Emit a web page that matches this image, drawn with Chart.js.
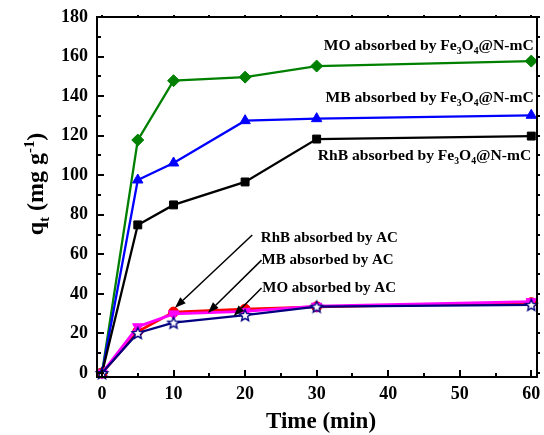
<!DOCTYPE html>
<html>
<head>
<meta charset="utf-8">
<script src="https://cdn.jsdelivr.net/npm/chart.js@4"></script>
<style>
  html, body { margin: 0; padding: 0; background: #fff; }
  #wrap { width: 544px; height: 435px; }
</style>
</head>
<body>
<div id="wrap"><canvas id="c" width="544" height="435"></canvas></div>
<script>
// Contact time (min)
const times = [0, 5, 10, 20, 30, 60];

// Adsorbed amount q_t (mg g^-1) on Fe3O4@N-mC
const moFe  = [0, 117.8, 147.8, 149.6, 155.2, 157.7];
const mbFe  = [0, 97.6, 106.2, 127.6, 128.6, 130.3];
const rhbFe = [0, 74.9, 85.0, 96.6, 118.3, 119.8];

// Adsorbed amount q_t (mg g^-1) on activated carbon
const rhbAC = [0, 21.0, 30.8, 32.3, 33.5, 35.6];
const mbAC  = [0, 23.4, 29.9, 31.2, 33.8, 36.1];
const moAC  = [0, 20.3, 25.5, 29.3, 33.6, 34.5];

// Axis tick labels
const xTickValues = [0, 10, 20, 30, 40, 50, 60];
const yTickValues = [0, 20, 40, 60, 80, 100, 120, 140, 160, 180];

const FONT = "'Liberation Serif', 'Times New Roman', serif";

// Five-pointed star marker: white fill with navy outline
function makeStar(r, color) {
  const s = Math.ceil(r * 2 + 4);
  const cv = document.createElement('canvas');
  cv.width = s; cv.height = s;
  const g = cv.getContext('2d');
  g.translate(s / 2, s / 2 + 0.6);
  g.beginPath();
  for (let i = 0; i < 10; i++) {
    const rad = i % 2 === 0 ? r : r * 0.45;
    const a = -Math.PI / 2 + i * Math.PI / 5;
    const px = rad * Math.cos(a), py = rad * Math.sin(a);
    if (i === 0) g.moveTo(px, py); else g.lineTo(px, py);
  }
  g.closePath();
  g.fillStyle = '#fff';
  g.fill();
  g.lineWidth = 1.4;
  g.strokeStyle = color;
  g.stroke();
  return cv;
}
const starMarker = makeStar(6, '#000080');

function pts(ys) { return times.map((t, i) => ({ x: t, y: ys[i] })); }

// Text made of normal / subscript / superscript runs
function richText(ctx, x, y, segs, size, align) {
  let total = 0;
  const parts = segs.map(s => {
    const sz = s.m ? size * 0.62 : size;
    ctx.font = `bold ${sz}px ${FONT}`;
    const w = ctx.measureText(s.t).width;
    total += w;
    return { s, sz, w };
  });
  let cx = align === 'right' ? x - total : align === 'center' ? x - total / 2 : x;
  ctx.textAlign = 'left';
  ctx.textBaseline = 'alphabetic';
  for (const p of parts) {
    ctx.font = `bold ${p.sz}px ${FONT}`;
    const dy = p.s.m === 'sub' ? size * 0.24 : p.s.m === 'sup' ? -size * 0.36 : 0;
    ctx.fillText(p.s.t, cx, y + dy);
    cx += p.w;
  }
}

function arrow(ctx, x1, y1, x2, y2) {
  const ang = Math.atan2(y2 - y1, x2 - x1);
  const hl = 11, hw = 4;
  const bx = x2 - hl * Math.cos(ang), by = y2 - hl * Math.sin(ang);
  ctx.beginPath();
  ctx.moveTo(x1, y1);
  ctx.lineTo(bx, by);
  ctx.lineWidth = 1.5;
  ctx.stroke();
  ctx.beginPath();
  ctx.moveTo(x2, y2);
  ctx.lineTo(bx + hw * Math.sin(ang), by - hw * Math.cos(ang));
  ctx.lineTo(bx - hw * Math.sin(ang), by + hw * Math.cos(ang));
  ctx.closePath();
  ctx.fill();
}

// Curve labels, anchored in data units
const feLabels = [
  { x: 60.35, y: 163.3, dye: 'MO' },
  { x: 60.35, y: 137.0, dye: 'MB' },
  { x: 60.0,  y: 107.7, dye: 'RhB' }
];
const acLabels = [
  { x: 22.2, y: 66.3, text: 'RhB absorbed by AC', from: [21.0, 69.8], to: [10.2, 33.0] },
  { x: 22.3, y: 55.1, text: 'MB absorbed by AC',  from: [22.3, 57.1], to: [14.8, 30.4] },
  { x: 22.4, y: 41.0, text: 'MO absorbed by AC',  from: [22.3, 43.0], to: [18.4, 28.8] }
];

const framePlugin = {
  id: 'frameAndLabels',
  afterDraw(chart) {
    const ctx = chart.ctx;
    const { left, right, top, bottom } = chart.chartArea;
    const xs = chart.scales.x, ys = chart.scales.y;
    ctx.save();
    ctx.strokeStyle = '#000';
    ctx.fillStyle = '#000';
    ctx.lineCap = 'butt';

    // ticks
    ctx.lineWidth = 2;
    ctx.beginPath();
    for (let v = 0; v <= 180; v += 10) {
      const py = Math.round(ys.getPixelForValue(v));
      const len = v % 20 === 0 ? 7 : 4;
      ctx.moveTo(left, py); ctx.lineTo(left + len, py);
      ctx.moveTo(right, py); ctx.lineTo(right + 3, py);
    }
    for (let v = 0; v <= 60; v += 5) {
      const px = Math.round(xs.getPixelForValue(v));
      const len = v % 10 === 0 ? 7 : 4;
      ctx.moveTo(px, bottom); ctx.lineTo(px, bottom - len);
      ctx.moveTo(px, top); ctx.lineTo(px, top - 2);
    }
    ctx.stroke();

    // frame
    ctx.lineWidth = 2;
    ctx.strokeRect(left, top, right - left, bottom - top);

    // axis titles
    ctx.font = `bold 23px ${FONT}`;
    ctx.textAlign = 'center';
    ctx.textBaseline = 'alphabetic';
    ctx.fillText('Time (min)', (left + right) / 2 + 4, 428);

    ctx.save();
    ctx.translate(43, 184);
    ctx.rotate(-Math.PI / 2);
    richText(ctx, 0, 0, [
      { t: 'q' }, { t: 't', m: 'sub' }, { t: ' (mg g' }, { t: '-1', m: 'sup' }, { t: ')' }
    ], 24, 'center');
    ctx.restore();

    // curve labels
    for (const l of feLabels) {
      richText(ctx, xs.getPixelForValue(l.x), ys.getPixelForValue(l.y), [
        { t: l.dye + ' absorbed by Fe' }, { t: '3', m: 'sub' }, { t: 'O' }, { t: '4', m: 'sub' }, { t: '@N-mC' }
      ], 15.6, 'right');
    }
    for (const l of acLabels) {
      richText(ctx, xs.getPixelForValue(l.x), ys.getPixelForValue(l.y), [{ t: l.text }], 15, 'left');
      arrow(ctx,
        xs.getPixelForValue(l.from[0]), ys.getPixelForValue(l.from[1]),
        xs.getPixelForValue(l.to[0]), ys.getPixelForValue(l.to[1]));
    }
    ctx.restore();
  }
};

function series(label, ys, color, style, extra) {
  return Object.assign({
    label,
    data: pts(ys),
    borderColor: color,
    backgroundColor: color,
    pointBackgroundColor: color,
    pointBorderColor: color,
    borderWidth: 2.3,
    pointStyle: style,
    pointRadius: 5.5,
    pointBorderWidth: 1,
    tension: 0,
    clip: false
  }, extra || {});
}

new Chart(document.getElementById('c'), {
  type: 'line',
  data: {
    datasets: [
      series('MO absorbed by AC', moAC, '#000080', starMarker, { pointRadius: 6 }),
      series('MB absorbed by AC', mbAC, '#ff00ff', 'triangle', { rotation: 180, pointRadius: 6, borderWidth: 2.8 }),
      series('RhB absorbed by AC', rhbAC, '#ff0000', 'circle', { pointRadius: 5, borderWidth: 2.8 }),
      series('RhB absorbed by Fe3O4@N-mC', rhbFe, '#000000', 'rect', { pointRadius: 5.6 }),
      series('MB absorbed by Fe3O4@N-mC', mbFe, '#0000ff', 'triangle', { pointRadius: 6 }),
      series('MO absorbed by Fe3O4@N-mC', moFe, '#008000', 'rectRot', { pointRadius: 6 })
    ]
  },
  options: {
    responsive: false,
    animation: false,
    devicePixelRatio: 1,
    layout: { padding: { top: 17, right: 6, left: 0, bottom: 0 } },
    plugins: { legend: { display: false }, tooltip: { enabled: false }, title: { display: false } },
    scales: {
      x: {
        type: 'linear',
        min: -0.7,
        max: 60.8,
        afterBuildTicks(scale) { scale.ticks = xTickValues.map(v => ({ value: v })); },
        afterFit(scale) { scale.height = 58; scale.paddingLeft = 0; scale.paddingRight = 0; },
        grid: { display: false, drawTicks: false },
        border: { display: false },
        ticks: { color: '#000', padding: 7, maxRotation: 0, font: { family: FONT, size: 18, weight: 'bold' } }
      },
      y: {
        type: 'linear',
        min: -2,
        max: 180,
        afterBuildTicks(scale) { scale.ticks = yTickValues.map(v => ({ value: v })); },
        afterFit(scale) { scale.width = 97; scale.paddingTop = 0; scale.paddingBottom = 0; },
        grid: { display: false, drawTicks: false },
        border: { display: false },
        ticks: { color: '#000', padding: 9, font: { family: FONT, size: 18, weight: 'bold' } }
      }
    }
  },
  plugins: [framePlugin]
});
</script>
</body>
</html>
